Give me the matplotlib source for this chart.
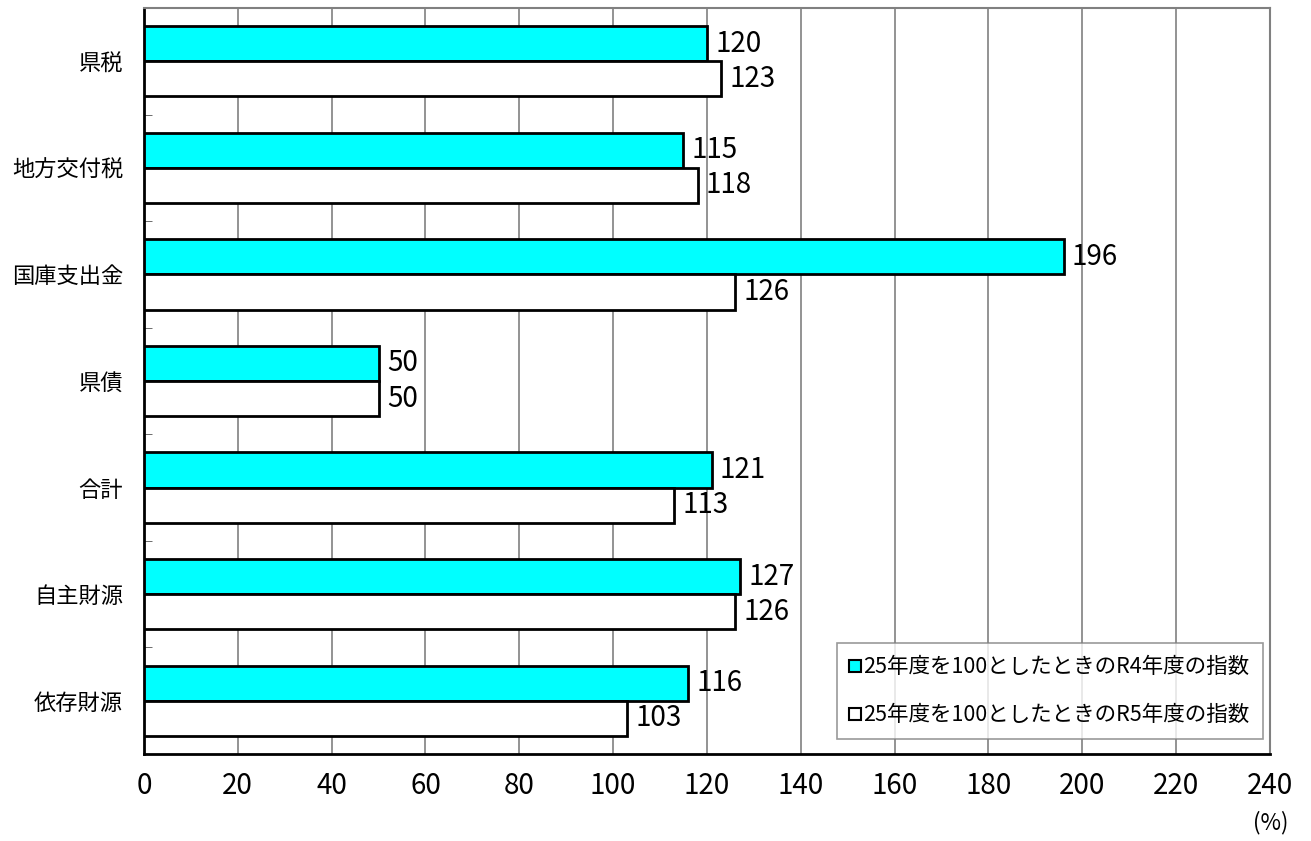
import numpy as np
import matplotlib
matplotlib.use("Agg")
import matplotlib.pyplot as plt
from matplotlib.lines import Line2D

plt.rcParams['font.family'] = ['Noto Sans CJK JP', 'DejaVu Sans']

# data
categories = ["県税", "地方交付税", "国庫支出金", "県債", "合計", "自主財源", "依存財源"]
r4_index = [120, 115, 196, 50, 121, 127, 116]
r5_index = [123, 118, 126, 50, 113, 126, 103]
legend_labels = ["25年度を100としたときのR4年度の指数", "25年度を100としたときのR5年度の指数"]
x_ticks = list(range(0, 241, 20))

fig = plt.figure(figsize=(13.11, 8.41), dpi=100)
ax = fig.add_axes([0.1098, 0.1034, 0.8589, 0.8871])

y = np.arange(len(categories))
h = 0.33
ax.barh(y - h / 2, r4_index, height=h, color="#00FFFF", edgecolor="black", linewidth=2, zorder=3)
ax.barh(y + h / 2, r5_index, height=h, color="white", edgecolor="black", linewidth=2, zorder=3)

# value labels at bar ends
for yi, v in zip(y, r4_index):
    ax.annotate(str(v), (v, yi - h / 2), xytext=(6, 0), textcoords="offset points",
                va="center", ha="left", fontsize=20)
for yi, v in zip(y, r5_index):
    ax.annotate(str(v), (v, yi + h / 2), xytext=(6, 0), textcoords="offset points",
                va="center", ha="left", fontsize=20)

ax.set_xlim(0, 240)
ax.set_ylim(len(categories) - 0.5, -0.5)
ax.set_xticks(x_ticks)
ax.set_xticklabels([str(t) for t in x_ticks], fontsize=20)
ax.set_yticks(y)
ax.set_yticklabels(categories, fontsize=16)
ax.set_yticks(np.arange(-0.5, len(categories), 1), minor=True)
ax.tick_params(axis="y", which="major", length=0, pad=15)
ax.tick_params(axis="y", which="minor", direction="in", length=6, color="#555555")
ax.tick_params(axis="x", length=0, pad=12)
ax.grid(axis="x", color="#808080", linewidth=1.2, zorder=0)

for s in ["left", "bottom"]:
    ax.spines[s].set_linewidth(2)
    ax.spines[s].set_color("black")
for s in ["top", "right"]:
    ax.spines[s].set_linewidth(1.5)
    ax.spines[s].set_color("#808080")

fig.text(0.969, 0.022, "(%)", fontsize=16, ha="center", va="center")

handles = [
    Line2D([], [], marker="s", linestyle="none", markersize=8, markerfacecolor="#00FFFF",
           markeredgecolor="black", markeredgewidth=1.5),
    Line2D([], [], marker="s", linestyle="none", markersize=8, markerfacecolor="white",
           markeredgecolor="black", markeredgewidth=1.5),
]
leg = ax.legend(handles, legend_labels, loc="lower right", bbox_to_anchor=(0.9935, 0.02),
                fontsize=15.5, frameon=True, fancybox=False, handlelength=0.5, handletextpad=0.15,
                labelspacing=1.2, borderpad=0.6, borderaxespad=0)
leg.get_frame().set_edgecolor("#808080")
leg.get_frame().set_linewidth(1.2)
leg.set_zorder(5)

fig.savefig("out.png", dpi=100)
